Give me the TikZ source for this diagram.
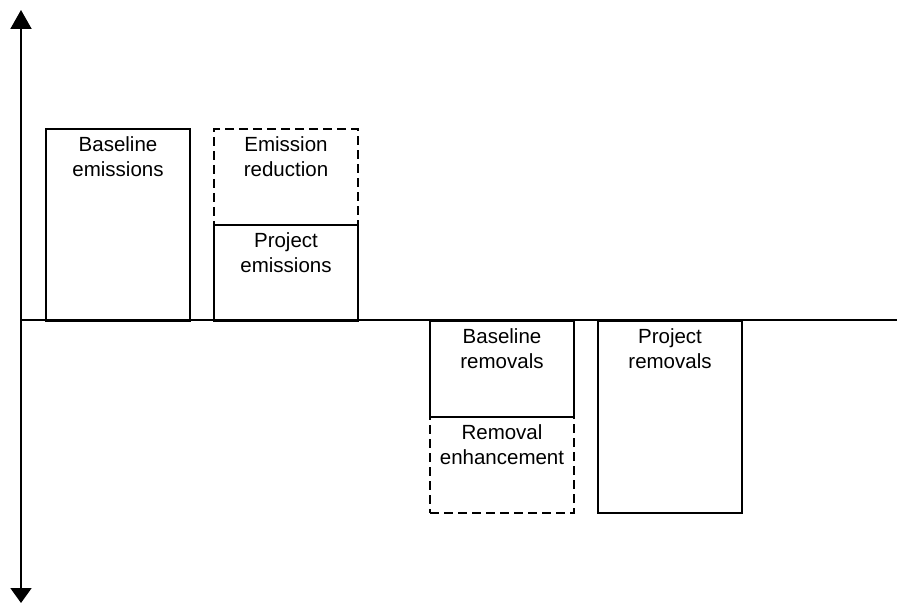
\documentclass[tikz,border=0pt]{standalone}
\usepackage{fontspec}
\setmainfont{Liberation Sans}
\usetikzlibrary{arrows.meta}
\begin{document}
\begin{tikzpicture}[x=1pt,y=-1pt,
  axis/.style={line width=2pt,draw=black},
  bar/.style={draw=black,line width=2pt,minimum width=144pt,inner sep=0pt,anchor=north west},
  tall/.style={bar,minimum height=192pt},
  short/.style={bar,minimum height=96pt},
  faint/.style={dash pattern=on 9pt off 5pt},
  lbl/.style={anchor=north,align=center,inner sep=8.5pt,
    font=\fontsize{20.5}{24.5}\selectfont}]
\useasboundingbox (0,0) rectangle (898,604);

% axes
\coordinate (top) at (21,10);
\coordinate (bottom) at (21,603);
\coordinate (origin) at (21,320);
\coordinate (right) at (897,320);
\draw[axis,-{Triangle[length=19pt,width=21pt]}] (origin) -- (top);
\draw[axis,-{Triangle[length=15pt,width=21pt]}] (origin) -- (bottom);
\draw[axis] (origin) -- (right);

% emissions side
\node[tall] (be) at (45,128) {};
\node[lbl] at (be.north) {Baseline\\emissions};
\node[short,faint] (er) at (213,128) {};
\node[lbl] at (er.north) {Emission\\reduction};
\node[short] (pe) at (213,224) {};
\node[lbl] at (pe.north) {Project\\emissions};

% removals side
\node[short] (br) at (429,320) {};
\node[lbl] at (br.north) {Baseline\\removals};
\node[short,faint] (re) at (429,416) {};
\node[lbl] at (re.north) {Removal\\enhancement};
\node[tall] (pr) at (597,320) {};
\node[lbl] at (pr.north) {Project\\removals};
\end{tikzpicture}
\end{document}
